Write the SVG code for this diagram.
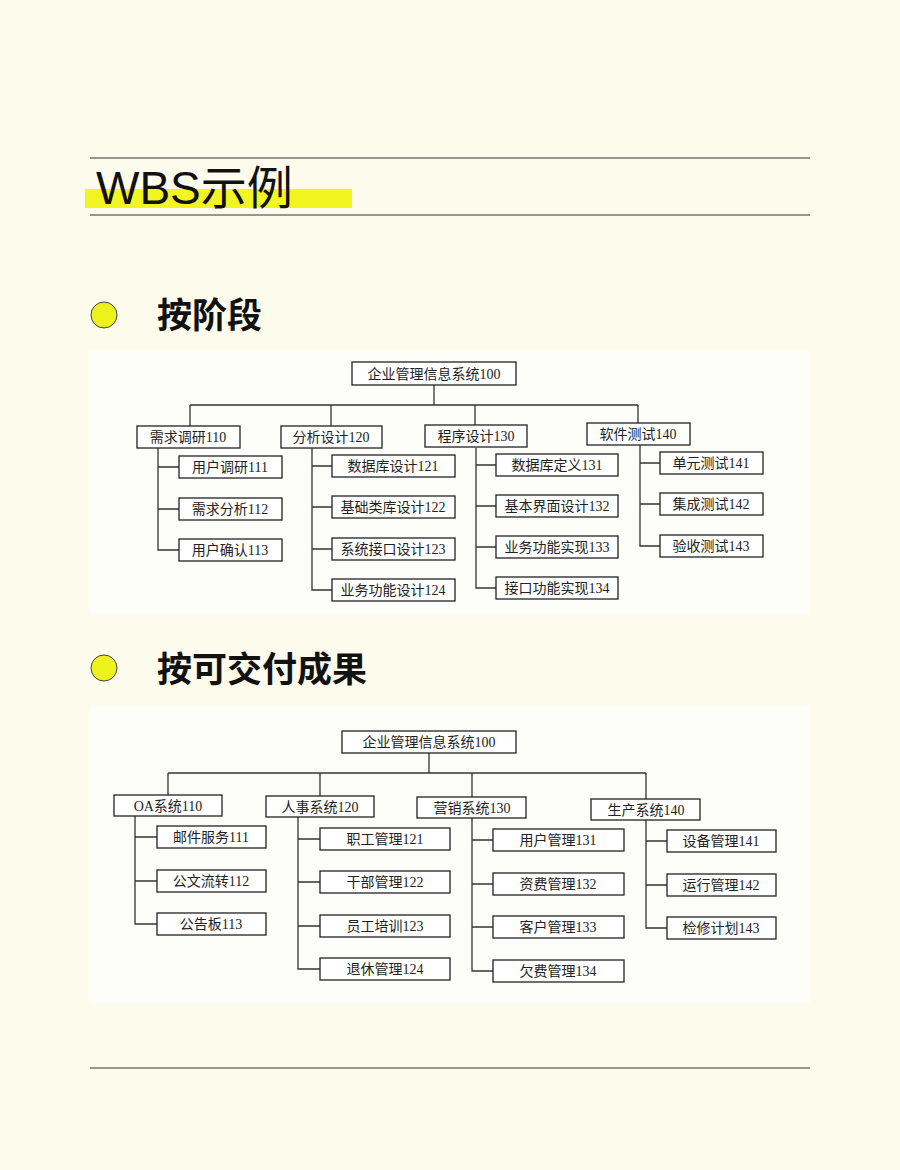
<svg xmlns="http://www.w3.org/2000/svg" width="900" height="1170" viewBox="0 0 900 1170">
<style>
.b{fill:#fff;stroke:#222;stroke-width:1.3}
.t{font-family:"Liberation Serif","Noto Sans CJK SC",serif;font-size:14px;fill:#222;text-anchor:middle}
.c{fill:none;stroke:#333;stroke-width:1.3}
.h{font-family:"Noto Sans CJK SC",sans-serif;font-weight:bold;font-size:35px;fill:#111}
.rule{stroke:#333;stroke-width:1}
</style>
<rect width="900" height="1170" fill="#fdfcec"/>
<line class="rule" x1="90" y1="158" x2="810" y2="158"/>
<line class="rule" x1="90" y1="215" x2="810" y2="215"/>
<line class="rule" x1="90" y1="1068" x2="810" y2="1068"/>
<rect x="85" y="189" width="267" height="19" fill="#f2f520"/>
<text x="96" y="204" font-family="Liberation Sans,Noto Sans CJK SC,sans-serif" font-size="46" fill="#111">WBS示例</text>
<circle cx="104" cy="315" r="13" fill="#eef21c" stroke="#444"/>
<text class="h" x="157" y="328">按阶段</text>
<circle cx="104" cy="668" r="13" fill="#eef21c" stroke="#444"/>
<text class="h" x="157" y="682">按可交付成果</text>
<rect x="90" y="350" width="720" height="265" fill="#fcfcf8"/>
<rect x="90" y="705" width="720" height="298" fill="#fcfcf8"/>
<g id="connectors">
<path class="c" d="M434 385V405M190 405H638M190 405V426M331 405V426M475 405V426M638 405V423"/>
<path class="c" d="M158 448V550H179M158 467H179M158 509H179"/>
<path class="c" d="M312 448V590H332M312 466H332M312 507H332M312 549H332"/>
<path class="c" d="M476 448V588H496M476 465H496M476 506H496M476 547H496"/>
<path class="c" d="M640 445V546H660M640 463H660M640 504H660"/>
<path class="c" d="M429 753V773M168 773H646M168 773V795M320 773V796M472 773V797M646 773V799"/>
<path class="c" d="M135 816V924H157M135 837H157M135 881H157"/>
<path class="c" d="M298 817V969H320M298 839H320M298 882H320M298 926H320"/>
<path class="c" d="M472 818V971H493M472 840H493M472 884H493M472 927H493"/>
<path class="c" d="M646 820V928H667M646 841H667M646 885H667"/>
</g>
<g id="n100"><rect class="b" x="352" y="362" width="164" height="23"/><text class="t" x="434" y="379">企业管理信息系统100</text></g>
<g id="n110"><rect class="b" x="137" y="426" width="103" height="22"/><text class="t" x="188" y="442">需求调研110</text></g>
<g id="n120"><rect class="b" x="281" y="426" width="101" height="22"/><text class="t" x="331" y="442">分析设计120</text></g>
<g id="n130"><rect class="b" x="425" y="425" width="102" height="22"/><text class="t" x="476" y="441">程序设计130</text></g>
<g id="n140"><rect class="b" x="587" y="423" width="103" height="22"/><text class="t" x="638" y="439">软件测试140</text></g>
<g id="n111"><rect class="b" x="179" y="456" width="103" height="22"/><text class="t" x="230" y="472">用户调研111</text></g>
<g id="n112"><rect class="b" x="179" y="498" width="103" height="22"/><text class="t" x="230" y="514">需求分析112</text></g>
<g id="n113"><rect class="b" x="179" y="539" width="103" height="22"/><text class="t" x="230" y="555">用户确认113</text></g>
<g id="n121"><rect class="b" x="332" y="455" width="123" height="22"/><text class="t" x="393" y="471">数据库设计121</text></g>
<g id="n122"><rect class="b" x="332" y="496" width="123" height="22"/><text class="t" x="393" y="512">基础类库设计122</text></g>
<g id="n123"><rect class="b" x="332" y="538" width="123" height="22"/><text class="t" x="393" y="554">系统接口设计123</text></g>
<g id="n124"><rect class="b" x="332" y="579" width="123" height="22"/><text class="t" x="393" y="595">业务功能设计124</text></g>
<g id="n131"><rect class="b" x="496" y="454" width="122" height="22"/><text class="t" x="557" y="470">数据库定义131</text></g>
<g id="n132"><rect class="b" x="496" y="495" width="122" height="22"/><text class="t" x="557" y="511">基本界面设计132</text></g>
<g id="n133"><rect class="b" x="496" y="536" width="122" height="22"/><text class="t" x="557" y="552">业务功能实现133</text></g>
<g id="n134"><rect class="b" x="496" y="577" width="122" height="22"/><text class="t" x="557" y="593">接口功能实现134</text></g>
<g id="n141"><rect class="b" x="660" y="452" width="103" height="22"/><text class="t" x="711" y="468">单元测试141</text></g>
<g id="n142"><rect class="b" x="660" y="493" width="103" height="22"/><text class="t" x="711" y="509">集成测试142</text></g>
<g id="n143"><rect class="b" x="660" y="535" width="103" height="22"/><text class="t" x="711" y="551">验收测试143</text></g>
<g id="m100"><rect class="b" x="342" y="731" width="174" height="22"/><text class="t" x="429" y="747">企业管理信息系统100</text></g>
<g id="m110"><rect class="b" x="114" y="795" width="108" height="21"/><text class="t" x="168" y="811">OA系统110</text></g>
<g id="m120"><rect class="b" x="266" y="796" width="108" height="21"/><text class="t" x="320" y="812">人事系统120</text></g>
<g id="m130"><rect class="b" x="417" y="797" width="109" height="21"/><text class="t" x="472" y="813">营销系统130</text></g>
<g id="m140"><rect class="b" x="591" y="799" width="109" height="21"/><text class="t" x="646" y="815">生产系统140</text></g>
<g id="m111"><rect class="b" x="157" y="826" width="109" height="22"/><text class="t" x="211" y="842">邮件服务111</text></g>
<g id="m112"><rect class="b" x="157" y="870" width="109" height="22"/><text class="t" x="211" y="886">公文流转112</text></g>
<g id="m113"><rect class="b" x="157" y="913" width="109" height="22"/><text class="t" x="211" y="929">公告板113</text></g>
<g id="m121"><rect class="b" x="320" y="828" width="130" height="22"/><text class="t" x="385" y="844">职工管理121</text></g>
<g id="m122"><rect class="b" x="320" y="871" width="130" height="22"/><text class="t" x="385" y="887">干部管理122</text></g>
<g id="m123"><rect class="b" x="320" y="915" width="130" height="22"/><text class="t" x="385" y="931">员工培训123</text></g>
<g id="m124"><rect class="b" x="320" y="958" width="130" height="22"/><text class="t" x="385" y="974">退休管理124</text></g>
<g id="m131"><rect class="b" x="493" y="829" width="131" height="22"/><text class="t" x="558" y="845">用户管理131</text></g>
<g id="m132"><rect class="b" x="493" y="873" width="131" height="22"/><text class="t" x="558" y="889">资费管理132</text></g>
<g id="m133"><rect class="b" x="493" y="916" width="131" height="22"/><text class="t" x="558" y="932">客户管理133</text></g>
<g id="m134"><rect class="b" x="493" y="960" width="131" height="22"/><text class="t" x="558" y="976">欠费管理134</text></g>
<g id="m141"><rect class="b" x="667" y="830" width="109" height="22"/><text class="t" x="721" y="846">设备管理141</text></g>
<g id="m142"><rect class="b" x="667" y="874" width="109" height="22"/><text class="t" x="721" y="890">运行管理142</text></g>
<g id="m143"><rect class="b" x="667" y="917" width="109" height="22"/><text class="t" x="721" y="933">检修计划143</text></g>
</svg>
